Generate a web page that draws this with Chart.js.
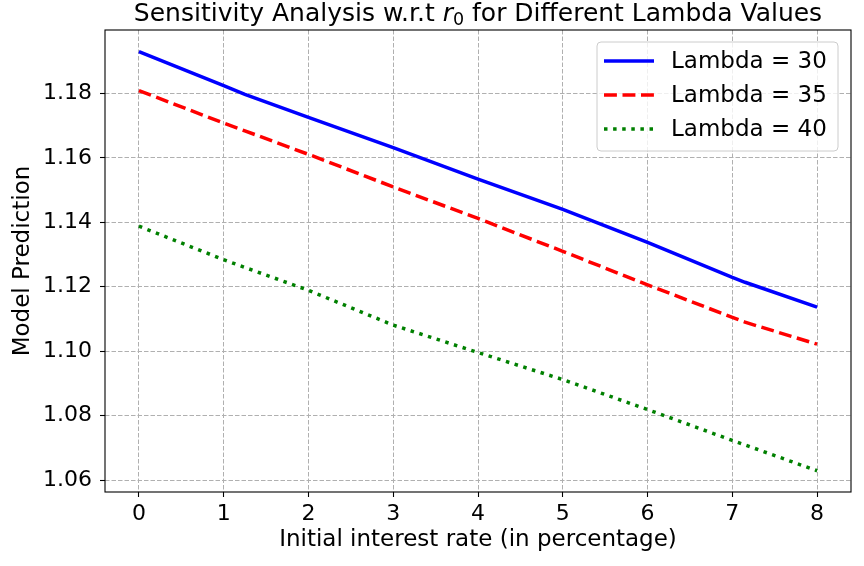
<!DOCTYPE html>
<html>
<head>
<meta charset="utf-8">
<script src="https://cdn.jsdelivr.net/npm/chart.js@4.4.1/dist/chart.umd.min.js"></script>
<style>
  html, body { margin: 0; padding: 0; background: #fff; }
  #chart-wrap { width: 864px; height: 566px; }
</style>
</head>
<body>
<div id="chart-wrap"><canvas id="sensitivityChart" width="864" height="566"></canvas></div>
<script>
'use strict';

// values
const rateValues = [0, 1, 1.25, 2, 3, 4, 5, 6, 7, 7.15, 8];
const lambda30Values = [1.1930, 1.1824, 1.1797, 1.1726, 1.1632, 1.1534, 1.1440, 1.1338, 1.1229, 1.1214, 1.1137];
const lambda35Values = [1.1809, 1.1708, 1.1684, 1.1611, 1.1510, 1.1412, 1.1310, 1.1206, 1.1105, 1.1090, 1.1022];
const lambda40Values = [1.1388, 1.1284, 1.1260, 1.1189, 1.1081, 1.0996, 1.0912, 1.0819, 1.0723, 1.0709, 1.0629];
const seriesLabels = ['Lambda = 30', 'Lambda = 35', 'Lambda = 40'];

const fontFamily = '"DejaVu Sans", sans-serif';
const gridColor = '#b0b0b0';

function toPoints(values) {
  return values.map((y, i) => ({ x: rateValues[i], y }));
}

const mathTitle = {
  id: 'mathTitle',
  afterDraw(chart) {
    const { ctx, chartArea } = chart;
    const parts = [
      { text: 'Sensitivity Analysis w.r.t ', font: `25px ${fontFamily}`, dy: 0 },
      { text: 'r', font: `italic 25px ${fontFamily}`, dy: 0 },
      { text: '0', font: `17.5px ${fontFamily}`, dy: 4 },
      { text: ' for Different Lambda Values', font: `25px ${fontFamily}`, dy: 0 },
    ];
    ctx.save();
    ctx.fillStyle = '#000';
    ctx.textBaseline = 'alphabetic';
    ctx.textAlign = 'left';
    let total = 0;
    parts.forEach((p) => {
      ctx.font = p.font;
      p.width = ctx.measureText(p.text).width;
      total += p.width;
    });
    let x = (chartArea.left + chartArea.right) / 2 - total / 2;
    const baseY = 21;
    parts.forEach((p) => {
      ctx.font = p.font;
      ctx.fillText(p.text, x, baseY + p.dy);
      x += p.width;
    });
    ctx.restore();
  },
};

const axesFrame = {
  id: 'axesFrame',
  afterDatasetsDraw(chart) {
    const { ctx, chartArea } = chart;
    ctx.save();
    ctx.strokeStyle = '#000';
    ctx.lineWidth = 1.1;
    ctx.strokeRect(chartArea.left, chartArea.top, chartArea.right - chartArea.left, chartArea.bottom - chartArea.top);
    ctx.restore();
  },
};

const boxLegend = {
  id: 'boxLegend',
  afterDraw(chart) {
    const { ctx } = chart;
    const box = { left: 597, top: 42, width: 241, height: 109 };
    ctx.save();
    ctx.beginPath();
    ctx.roundRect(box.left, box.top, box.width, box.height, 4);
    ctx.fillStyle = 'rgba(255,255,255,0.8)';
    ctx.fill();
    ctx.strokeStyle = '#cccccc';
    ctx.lineWidth = 1;
    ctx.stroke();

    ctx.font = `23px ${fontFamily}`;
    ctx.textBaseline = 'middle';
    ctx.fillStyle = '#000';
    chart.data.datasets.forEach((ds, i) => {
      const y = 61 + i * 34;
      ctx.beginPath();
      ctx.setLineDash(ds.borderDash || []);
      ctx.strokeStyle = ds.borderColor;
      ctx.lineWidth = ds.borderWidth;
      ctx.lineCap = 'butt';
      ctx.moveTo(604, y);
      ctx.lineTo(654, y);
      ctx.stroke();
      ctx.setLineDash([]);
      ctx.fillText(ds.label, 671, y + 1);
    });
    ctx.restore();
  },
};

const canvas = document.getElementById('sensitivityChart');

new Chart(canvas, {
  type: 'line',
  data: {
    datasets: [
      {
        label: seriesLabels[0],
        data: toPoints(lambda30Values),
        borderColor: '#0000ff',
        borderWidth: 3.5,
        borderDash: [],
      },
      {
        label: seriesLabels[1],
        data: toPoints(lambda35Values),
        borderColor: '#ff0000',
        borderWidth: 3.5,
        borderDash: [12.9, 5.6],
      },
      {
        label: seriesLabels[2],
        data: toPoints(lambda40Values),
        borderColor: '#008000',
        borderWidth: 3.5,
        borderDash: [3.5, 5.6],
      },
    ],
  },
  options: {
    responsive: false,
    animation: false,
    layout: { padding: { top: 30, right: 13, left: 0, bottom: 0 } },
    elements: {
      point: { radius: 0 },
      line: { tension: 0, fill: false, borderCapStyle: 'butt' },
    },
    plugins: {
      legend: { display: false },
      title: { display: false },
      tooltip: { enabled: false },
    },
    scales: {
      x: {
        type: 'linear',
        min: -0.4,
        max: 8.4,
        afterFit: (scale) => { scale.height = 74; },
        border: { display: false, dash: [4.5, 2] },
        grid: {
          color: gridColor,
          lineWidth: 1,
          drawTicks: true,
          tickLength: 5,
          tickColor: '#000',
          tickWidth: 1.1,
          tickBorderDash: [],
        },
        ticks: {
          stepSize: 1,
          includeBounds: false,
          autoSkip: false,
          maxRotation: 0,
          padding: 4,
          color: '#000',
          font: { family: fontFamily, size: 22 },
          callback: (value) => String(value),
        },
        title: {
          display: true,
          text: 'Initial interest rate (in percentage)',
          color: '#000',
          font: { family: fontFamily, size: 23 },
          padding: { top: 0, bottom: 12 },
        },
      },
      y: {
        type: 'linear',
        min: 1.0563,
        max: 1.1997,
        afterFit: (scale) => { scale.width = 105; },
        border: { display: false, dash: [4.5, 2] },
        grid: {
          color: gridColor,
          lineWidth: 1,
          drawTicks: true,
          tickLength: 5,
          tickColor: '#000',
          tickWidth: 1.1,
          tickBorderDash: [],
        },
        ticks: {
          stepSize: 0.02,
          includeBounds: false,
          padding: 8,
          color: '#000',
          font: { family: fontFamily, size: 22 },
          callback: (value) => Number(value).toFixed(2),
        },
        title: {
          display: true,
          text: 'Model Prediction',
          color: '#000',
          font: { family: fontFamily, size: 23 },
          padding: { top: 9, bottom: 0 },
        },
      },
    },
  },
  plugins: [mathTitle, axesFrame, boxLegend],
});
</script>
</body>
</html>
